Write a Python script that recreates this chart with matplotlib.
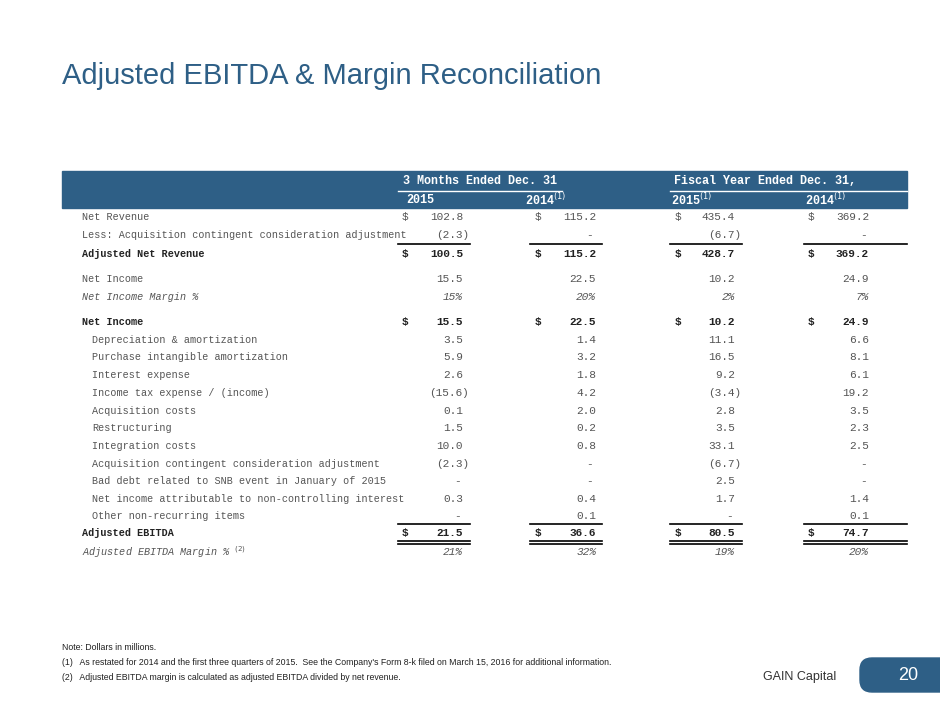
import matplotlib
matplotlib.use("Agg")
from matplotlib import pyplot as plt
from matplotlib.patches import Rectangle, FancyBboxPatch

# Table data
labels = ["Net Revenue", "Less: Acquisition contingent consideration adjustment",
          "Adjusted Net Revenue", "Net Income", "Net Income Margin %",
          "Net Income", "Depreciation & amortization", "Purchase intangible amortization",
          "Interest expense", "Income tax expense / (income)", "Acquisition costs",
          "Restructuring", "Integration costs",
          "Acquisition contingent consideration adjustment",
          "Bad debt related to SNB event in January of 2015",
          "Net income attributable to non-controlling interest",
          "Other non-recurring items", "Adjusted EBITDA", "Adjusted EBITDA Margin %"]
q2015 = ["102.8", "(2.3)", "100.5", "15.5", "15%", "15.5", "3.5", "5.9", "2.6", "(15.6)",
         "0.1", "1.5", "10.0", "(2.3)", "-", "0.3", "-", "21.5", "21%"]
q2014 = ["115.2", "-", "115.2", "22.5", "20%", "22.5", "1.4", "3.2", "1.8", "4.2",
         "2.0", "0.2", "0.8", "-", "-", "0.4", "0.1", "36.6", "32%"]
f2015 = ["435.4", "(6.7)", "428.7", "10.2", "2%", "10.2", "11.1", "16.5", "9.2", "(3.4)",
         "2.8", "3.5", "33.1", "(6.7)", "2.5", "1.7", "-", "80.5", "19%"]
f2014 = ["369.2", "-", "369.2", "24.9", "7%", "24.9", "6.6", "8.1", "6.1", "19.2",
         "3.5", "2.3", "2.5", "-", "-", "1.4", "0.1", "74.7", "20%"]
bold_rows = {2, 5, 17}
italic_rows = {4, 18}
dollar_rows = {0, 2, 5, 17}
indent_rows = set(range(6, 17))
row_y = [217, 235, 254, 279, 297, 322, 340, 357, 375, 393, 411, 428, 446, 464,
         481, 499, 516, 533, 552]

BLUE = "#2e5f86"
GREY = "#555555"
MONO = "Liberation Mono"

fig = plt.figure(figsize=(9.4, 7.05), dpi=100)
ax = fig.add_axes([0, 0, 1, 1])
ax.set_xlim(0, 940)
ax.set_ylim(705, 0)
ax.axis("off")

ax.text(62, 76, "Adjusted EBITDA & Margin Reconciliation", fontsize=21,
        color=BLUE, family="Liberation Sans", va="center")

# header bar
ax.add_patch(Rectangle((62, 171), 845, 37, color=BLUE))
hkw = dict(color="white", family=MONO, fontsize=8.5, fontweight="bold", va="center")
ax.text(480, 181, "3 Months Ended Dec. 31", ha="center", **hkw)
ax.text(765, 181, "Fiscal Year Ended Dec. 31,", ha="center", **hkw)
ax.plot([398, 562], [191, 191], color="white", lw=1)
ax.plot([670, 907], [191, 191], color="white", lw=1)
for x, t in zip([420, 546, 692, 826], ["2015", "2014$^{(1)}$", "2015$^{(1)}$", "2014$^{(1)}$"]):
    ax.text(x, 200, t, ha="center", **hkw)

cols = [(405, 463, q2015), (538, 596, q2014), (678, 735, f2015), (811, 869, f2014)]
spans = [(398, 470), (530, 602), (670, 742), (804, 907)]

for i, lab in enumerate(labels):
    y = row_y[i]
    kw = dict(family=MONO, fontsize=8, va="center",
              color="#222222" if i in bold_rows else GREY,
              fontweight="bold" if i in bold_rows else "normal",
              style="italic" if i in italic_rows else "normal")
    x0 = 92 if i in indent_rows else 82
    t = lab + (" $^{(2)}$" if i == 18 else "")
    lkw = dict(kw)
    lkw["fontsize"] = 7.3
    ax.text(x0, y, t, ha="left", **lkw)
    for xd, xv, vals in cols:
        v = vals[i]
        if i in dollar_rows:
            ax.text(xd, y, "$", ha="center", **kw)
        xr = xv + (6 if v.startswith("(") else 0)
        if v == "-":
            ax.text(xv - 6, y, "-", ha="center", **kw)
        else:
            ax.text(xr, y, v, ha="right", **kw)

# underlines
for a, b in spans:
    ax.plot([a, b], [244, 244], color="black", lw=1.2)
    ax.plot([a, b], [524, 524], color="black", lw=1.2)
    ax.plot([a, b], [541, 541], color="black", lw=1.2)
    ax.plot([a, b], [543.5, 543.5], color="black", lw=1.2)

notes = ["Note: Dollars in millions.",
         "(1)   As restated for 2014 and the first three quarters of 2015.  See the Company's Form 8-k filed on March 15, 2016 for additional information.",
         "(2)   Adjusted EBITDA margin is calculated as adjusted EBITDA divided by net revenue."]
for j, n in enumerate(notes):
    ax.text(62, 648 + j * 14.5, n, fontsize=6.3, family="Liberation Sans",
            color="#222222", va="center")

ax.text(836, 677, "GAIN Capital", fontsize=9, family="Liberation Sans",
        color="#333333", ha="right", va="center")
ax.add_patch(FancyBboxPatch((860, 658), 100, 34, boxstyle="round,pad=0,rounding_size=12",
                            color=BLUE))
ax.text(908, 675, "20", fontsize=13, color="white", ha="center", va="center",
        family="Liberation Sans")

fig.savefig("out.png", dpi=100)
